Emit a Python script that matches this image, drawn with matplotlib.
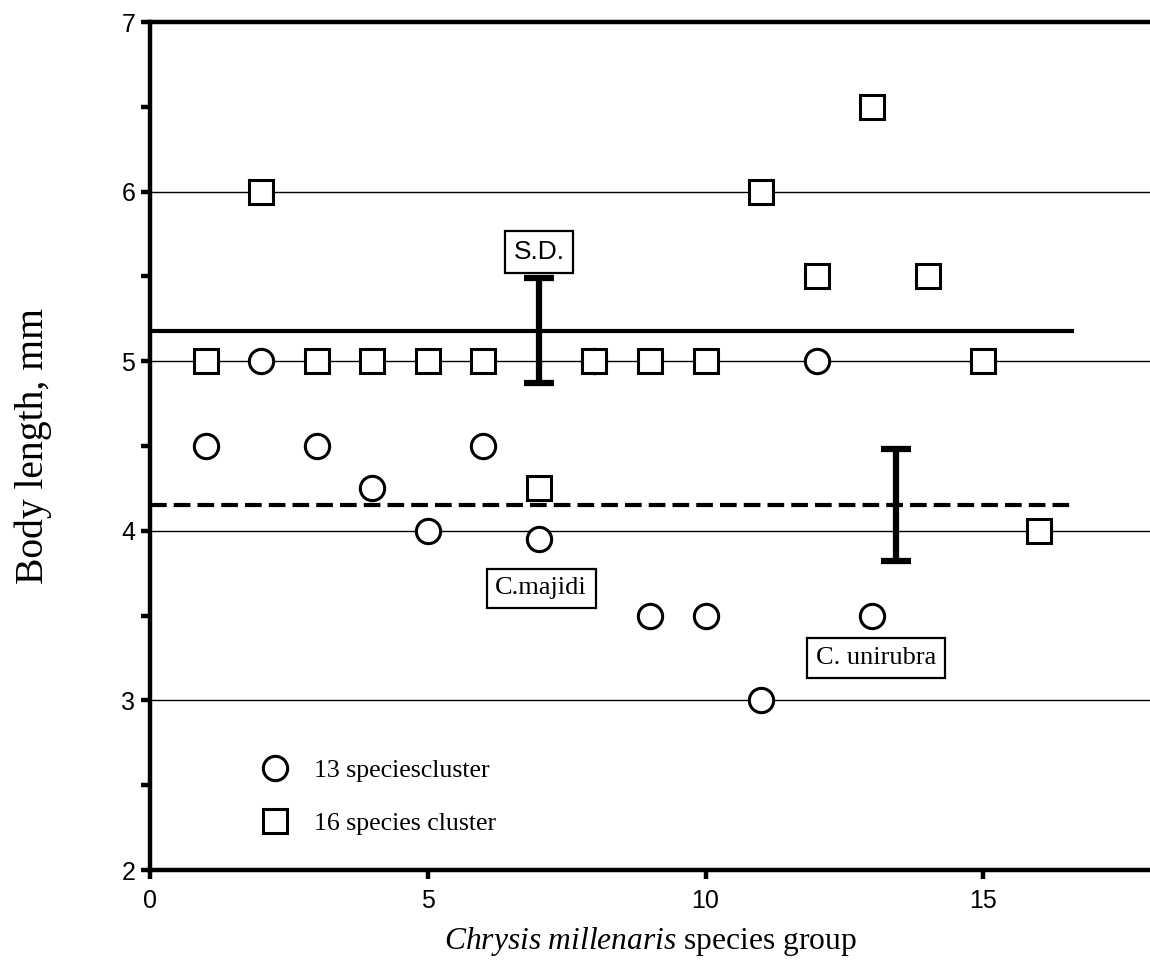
import matplotlib
matplotlib.use("Agg")
import matplotlib.pyplot as plt
from matplotlib.ticker import MultipleLocator

# italic part of the x label is done with mathtext, so point it at the serif font
plt.rcParams["mathtext.fontset"] = "custom"
plt.rcParams["mathtext.rm"] = "Liberation Serif"
plt.rcParams["mathtext.it"] = "Liberation Serif:italic"

# === Data ===
circle_x = [1, 2, 3, 4, 5, 6, 7, 8, 9, 10, 11, 12, 13]
circle_y = [4.5, 5.0, 4.5, 4.25, 4.0, 4.5, 3.95, 5.0, 3.5, 3.5, 3.0, 5.0, 3.5]

square_x = [1, 2, 3, 4, 5, 6, 7, 8, 9, 10, 11, 12, 13, 14, 15, 16]
square_y = [5.0, 6.0, 5.0, 5.0, 5.0, 5.0, 4.25, 5.0, 5.0, 5.0, 6.0, 5.5, 6.5, 5.5, 5.0, 4.0]

# cluster means (solid = 16 species, dashed = 13 species) and their S.D.
mean_16, mean_13 = 5.18, 4.15
sd_16, sd_13 = 0.31, 0.33
sd_x = [7.0, 13.43]
mean_line_end = 16.6

notes = ["S.D.", "C.majidi", "C. unirubra"]
note_x = [7.0, 7.04, 13.07]
note_y = [5.645, 3.66, 3.25]

sans = "Liberation Sans"
serif = "Liberation Serif"

# === Plot ===
fig = plt.figure(figsize=(11.5, 9.6), dpi=100)
ax = fig.add_axes([0.1304, 0.09375, 0.8696, 0.8833])

ax.set_xlim(0, 18)
ax.set_ylim(2, 7)

ax.yaxis.grid(True, which="major", color="black", lw=1.0)
ax.set_axisbelow(True)

ax.plot([0, mean_line_end], [mean_16, mean_16], color="black", lw=3.0, zorder=2)
ax.plot([0, mean_line_end], [mean_13, mean_13], color="black", lw=3.0,
        dashes=(4, 1.7), zorder=2)

ax.errorbar(sd_x, [mean_16, mean_13], yerr=[sd_16, sd_13], fmt="none",
            ecolor="black", elinewidth=4.5, capsize=10.5, capthick=4.5, zorder=3)

ax.plot(circle_x, circle_y, "o", ms=17.5, mfc="white", mec="black", mew=2.2,
        label="13 speciescluster", zorder=4)
ax.plot(square_x, square_y, "s", ms=17.5, mfc="white", mec="black", mew=2.2,
        label="16 species cluster", zorder=4)

for txt, x, y in zip(notes, note_x, note_y):
    fam = sans if txt == "S.D." else serif
    ax.text(x, y, txt, ha="center", va="center", fontsize=19, family=fam, zorder=5,
            bbox=dict(boxstyle="square,pad=0.33", fc="white", ec="black", lw=1.6))

leg = ax.legend(loc="center left", bbox_to_anchor=(0.112, 0.086), frameon=False,
                borderaxespad=0, borderpad=0, handlelength=1.0, handletextpad=1.0,
                labelspacing=1.15, prop={"family": serif, "size": 18.6})

ax.xaxis.set_major_locator(MultipleLocator(5))
ax.yaxis.set_major_locator(MultipleLocator(1))
ax.yaxis.set_minor_locator(MultipleLocator(0.5))
ax.tick_params(which="both", direction="out", length=6.5, width=3.2, color="black")
ax.tick_params(axis="x", pad=7)
ax.tick_params(axis="y", pad=4)
for lab in ax.get_xticklabels() + ax.get_yticklabels():
    lab.set_family(sans)
    lab.set_fontsize(18)

for side in ["left", "bottom", "top"]:
    ax.spines[side].set_linewidth(3.2)
ax.spines["right"].set_visible(False)

ax.set_xlabel(r"$\it{Chrysis\ millenaris}$ species group", family=serif,
              fontsize=22.7, labelpad=9)
ax.set_ylabel("Body length, mm", family=serif, fontsize=28.5)
ax.yaxis.set_label_coords(-0.098, 0.5)

fig.savefig("out.png", dpi=100)
